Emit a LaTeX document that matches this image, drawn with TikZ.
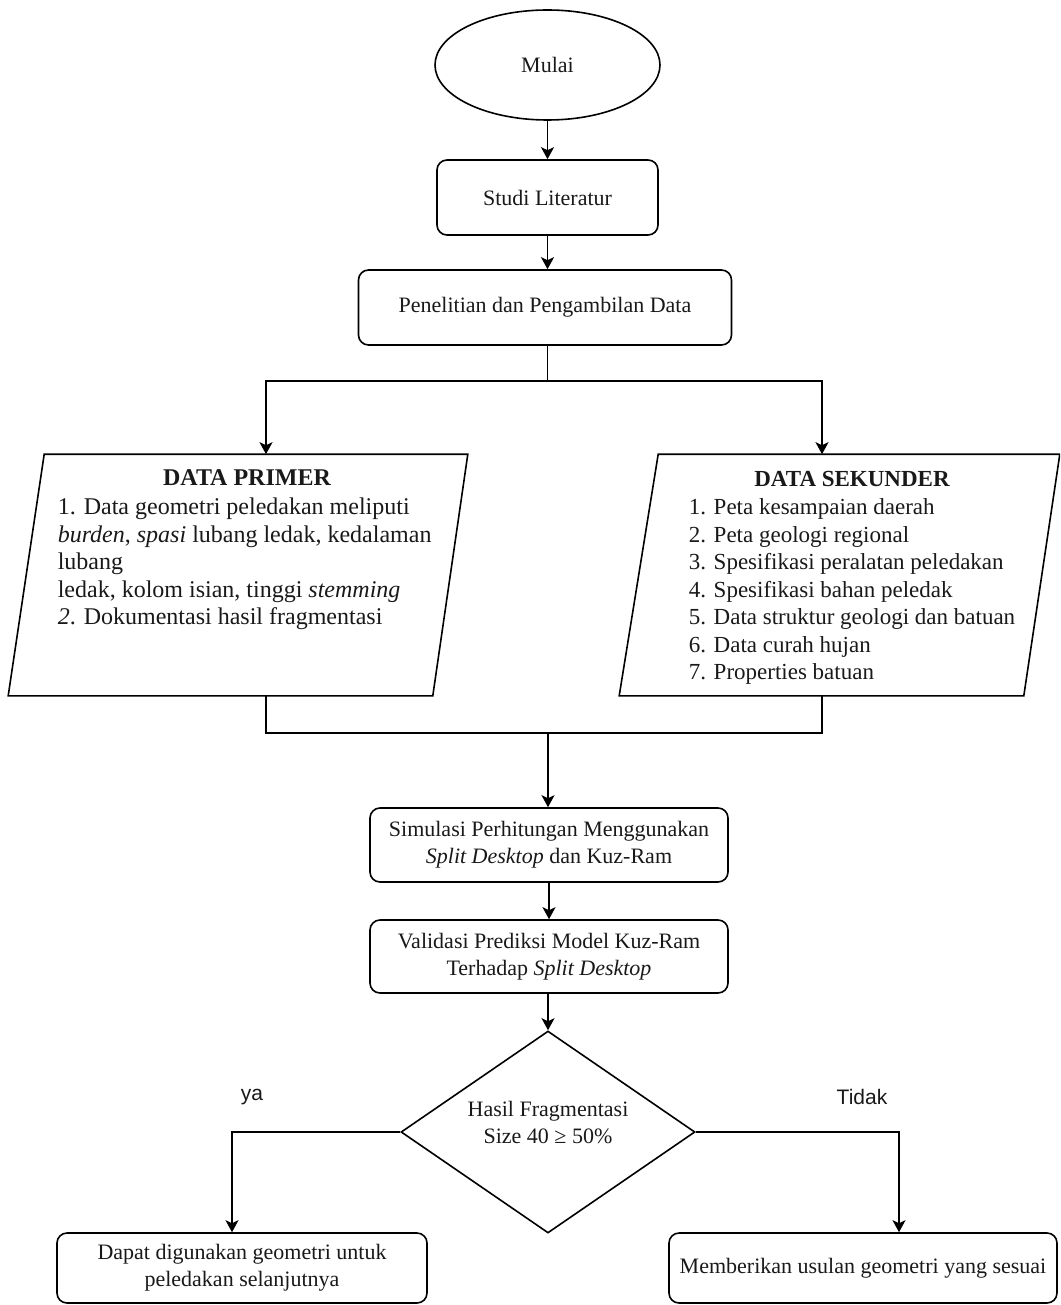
\documentclass[tikz,border=0pt]{standalone}
\usepackage{fontspec}
\setmainfont{Liberation Serif}
\newfontfamily\lsans{Liberation Sans}
\usetikzlibrary{shapes.geometric,arrows.meta}
\begin{document}
\begin{tikzpicture}[x=1pt,y=-1pt,line width=1.6pt,
  txt/.style={font=\fontsize{22}{27}\selectfont, text=black!90},
  box/.style={draw, rounded corners=10pt, align=center, inner sep=0pt, txt},
  frame/.style={draw=none, inner sep=0pt},
  arr/.style={-{Stealth[length=12pt,width=13pt,inset=3pt]}},
  lbl/.style={font=\lsans\fontsize{21}{24}\selectfont, text=black!90}]
\useasboundingbox (0,0) rectangle (1060,1305);
\clip (0,0) rectangle (1060,1305);

% nodes
\node[draw, ellipse, minimum width=225pt, minimum height=110pt, txt] (start) at (547.5,65) {\raisebox{-4pt}{Mulai}};
\node[box, minimum width=221pt, minimum height=75pt] (studi) at (547.5,197.5) {Studi Literatur};
\node[box, minimum width=373pt, minimum height=75pt] (penelitian) at (545,307.5) {Penelitian dan Pengambilan Data};

\node[frame, minimum width=458pt, minimum height=240pt] (primer) at (238,575) {};
\draw ([xshift=36pt]primer.north west) -- (primer.north east) -- ([xshift=-35pt]primer.south east) -- (primer.south west) -- cycle;
\node[txt, font=\bfseries\fontsize{24}{27.5}\selectfont] (ptitle) at (247,478) {DATA PRIMER};
\node[txt, font=\fontsize{24}{27.5}\selectfont, anchor=north west, align=left, inner sep=0pt] (pbody) at (57,497.5)
  {1. Data geometri peledakan meliputi\\
   \textit{burden}, \textit{spasi} lubang ledak, kedalaman\\
   lubang\\
   ledak, kolom isian, tinggi \textit{stemming}\\
   \textit{2}. Dokumentasi hasil fragmentasi};

\node[frame, minimum width=439pt, minimum height=240pt] (sekunder) at (839.5,575) {};
\draw ([xshift=39pt]sekunder.north west) -- (sekunder.north east) -- ([xshift=-36pt]sekunder.south east) -- (sekunder.south west) -- cycle;
\node[txt, font=\bfseries\fontsize{23}{27.5}\selectfont] (stitle) at (852,479) {DATA SEKUNDER};
\node[txt, font=\fontsize{23}{27.5}\selectfont, anchor=north west, align=left, inner sep=0pt] (sbody) at (688,498)
  {1. Peta kesampaian daerah\\
   2. Peta geologi regional\\
   3. Spesifikasi peralatan peledakan\\
   4. Spesifikasi bahan peledak\\
   5. Data struktur geologi dan batuan\\
   6. Data curah hujan\\
   7. Properties batuan};

\node[box, minimum width=358pt, minimum height=74pt] (simulasi) at (549,845)
  {Simulasi Perhitungan Menggunakan\\ \textit{Split Desktop} dan Kuz-Ram};
\node[box, minimum width=358pt, minimum height=73pt] (validasi) at (549,956.5)
  {Validasi Prediksi Model Kuz-Ram\\ Terhadap \textit{Split Desktop}};

\node[draw, diamond, aspect=1.455, inner sep=0pt, minimum width=294pt, minimum height=202pt] (dec) at (548,1132) {};
\node[txt, align=center] (dectext) at (548,1122) {Hasil Fragmentasi\\ Size 40 ≥ 50\%};

\node[box, minimum width=370pt, minimum height=70pt] (ya) at (242,1268)
  {Dapat digunakan geometri untuk\\ peledakan selanjutnya};
\node[box, minimum width=388pt, minimum height=70pt] (tidak) at (863,1268)
  {Memberikan usulan geometri yang sesuai};

\node[lbl] (lya) at (252,1097) {ya};
\node[lbl] (ltidak) at (862,1097) {Tidak};

% connector points
\coordinate (split) at (547.5,381);
\coordinate (pin) at ([xshift=28pt]primer.north);
\coordinate (sin) at ([xshift=-17.5pt]sekunder.north);
\coordinate (pout) at ([xshift=28pt]primer.south);
\coordinate (sout) at ([xshift=-17.5pt]sekunder.south);
\coordinate (join) at (548,733);
\coordinate (yin) at ([xshift=-10pt]ya.north);
\coordinate (tin) at ([xshift=36pt]tidak.north);

% connectors
\draw[arr] (start.south) -- (studi.north);
\draw[arr] (studi.south) -- (studi.south |- penelitian.north);
\draw (penelitian.south -| split) -- (split);
\draw[arr] (split) -| (pin);
\draw[arr] (split) -| (sin);
\draw (pout) |- (join);
\draw (sout) |- (join);
\draw[arr] (join) -- (join |- simulasi.north);
\draw[arr] (simulasi.south) -- (validasi.north);
\draw[arr] (validasi.south -| dec.north) -- (dec.north);
\draw[arr] (dec.west) -| (yin);
\draw[arr] (dec.east) -| (tin);
\end{tikzpicture}
\end{document}
